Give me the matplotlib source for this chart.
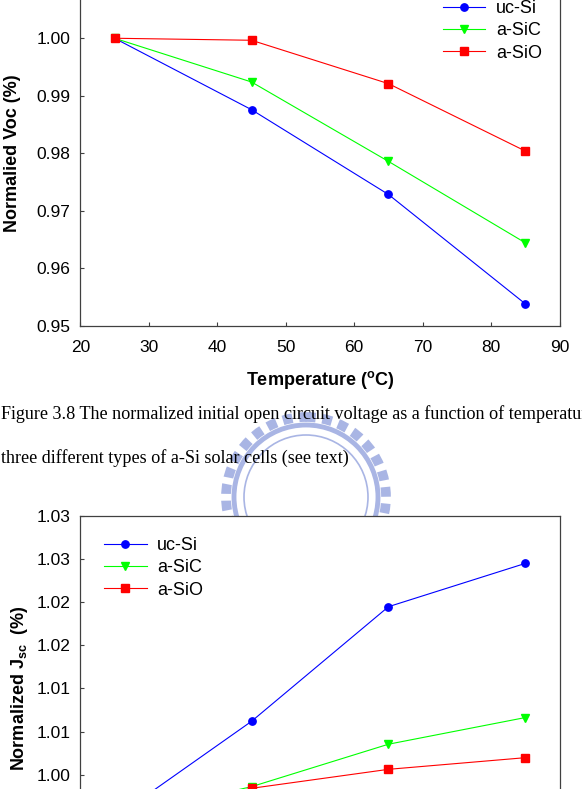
import matplotlib.pyplot as plt
from matplotlib.patches import Circle

plt.rcParams['font.family'] = ['Liberation Sans', 'DejaVu Sans']
plt.rcParams['mathtext.fontset'] = 'custom'
plt.rcParams['mathtext.rm'] = 'Liberation Sans'
plt.rcParams['mathtext.bf'] = 'Liberation Sans:bold'
plt.rcParams['mathtext.it'] = 'Liberation Sans:italic'

# data
temps = [25, 45, 65, 85]
labels = ['uc-Si', 'a-SiC', 'a-SiO']
voc_ucsi = [1.0, 0.98759, 0.97285, 0.95383]
voc_asic = [1.0, 0.99240, 0.97860, 0.96444]
voc_asio = [1.0, 0.99965, 0.99211, 0.98039]
jsc_ucsi = [1.0, 1.01118, 1.02446, 1.02948]
jsc_asic = [1.0, 1.00361, 1.00853, 1.01162]
jsc_asio = [1.0, 1.00342, 1.00562, 1.00697]

xticks = [20, 30, 40, 50, 60, 70, 80, 90]
voc_yticks = [0.95, 0.96, 0.97, 0.98, 0.99, 1.00]
jsc_yticks = [1.005, 1.010, 1.015, 1.020, 1.025, 1.030, 1.035]
jsc_yticklabels = ['1.00', '1.01', '1.01', '1.02', '1.02', '1.03', '1.03']

caption = ['Figure 3.8 The normalized initial open circuit voltage as a function of temperature for',
           'three different types of a-Si solar cells (see text)']

colors = ['#0000ff', '#00ff00', '#ff0000']
markers = ['o', 'v', 's']
msizes = [5.3, 6.0, 5.3]

W, H = 582, 789
fig = plt.figure(figsize=(W / 100, H / 100), dpi=100)

# watermark seal (background decoration)
bg = fig.add_axes([0, 0, 1, 1], zorder=0)
bg.set_xlim(0, W)
bg.set_ylim(H, 0)
bg.axis('off')
seal = '#a9b5e4'
bg.add_patch(Circle((306, 497), 80, fill=False, ec=seal, lw=7, ls=(0, (1.0, 0.7))))
bg.add_patch(Circle((306, 497), 72, fill=False, ec=seal, lw=3.5))
bg.add_patch(Circle((306, 497), 62, fill=False, ec=seal, lw=1.2))

for i, line in enumerate(caption):
    fig.text(1 / W, 1 - (419.3 + 44 * i) / H, line, family='Liberation Serif',
             fontsize=13.1, va='baseline', ha='left', zorder=2)


def style_axes(ax):
    ax.set_xlim(20, 90)
    ax.set_xticks(xticks)
    for s in ax.spines.values():
        s.set_color('#404040')
        s.set_linewidth(0.9)
    ax.tick_params(direction='in', length=3.2, width=0.8, color='#404040',
                   labelsize=12.5, top=False, right=False)
    ax.tick_params(axis='x', pad=10)
    ax.tick_params(axis='y', pad=6.9)


leg_kw = dict(bbox_transform=fig.transFigure, loc='upper left', frameon=False, fontsize=13,
              borderpad=0, borderaxespad=0, handlelength=2.36, handletextpad=0.59,
              labelspacing=0.29)

# top: normalized Voc
ax1 = fig.add_axes([80.3 / W, 1 - 326 / H, 479.4 / W, 345.3 / H], zorder=1)
for vals, lab, c, m, ms in zip([voc_ucsi, voc_asic, voc_asio], labels, colors, markers, msizes):
    ax1.plot(temps, vals, color=c, lw=0.8, marker=m, ms=ms, mec=c, label=lab)
style_axes(ax1)
ax1.set_ylim(0.95, 1.01)
ax1.set_yticks(voc_yticks)
ax1.set_yticklabels(['%.2f' % v for v in voc_yticks])
ax1.set_xlabel(r'Temperature ($\mathbf{^{o}}$C)', fontsize=13, fontweight='bold', va='center')
ax1.xaxis.set_label_coords(0.5, -54 / 345.3)
ax1.set_ylabel('Normalied Voc (%)', fontsize=13, fontweight='bold', va='center')
ax1.yaxis.set_label_coords((12.8 - 80.3) / 479.4, 0.5)
ax1.legend(bbox_to_anchor=(442.7 / W, 1 - 0.2 / H), **leg_kw)

# bottom: normalized Jsc (its x axis falls below the page crop)
ax2 = fig.add_axes([80.3 / W, 1 - 861 / H, 479.4 / W, 345.3 / H], zorder=1)
for vals, lab, c, m, ms in zip([jsc_ucsi, jsc_asic, jsc_asio], labels, colors, markers, msizes):
    ax2.plot(temps, vals, color=c, lw=0.8, marker=m, ms=ms, mec=c, label=lab)
style_axes(ax2)
ax2.tick_params(axis='x', labelbottom=False)
ax2.set_ylim(0.995, 1.035)
ax2.set_yticks(jsc_yticks)
ax2.set_yticklabels(jsc_yticklabels)
ax2.set_ylabel(r'Normalized J$\mathbf{_{sc}}$  (%)', fontsize=13, fontweight='bold', va='center')
ax2.yaxis.set_label_coords((19.5 - 80.3) / 479.4, 0.5)
ax2.legend(bbox_to_anchor=(104 / W, 1 - 537.1 / H), **leg_kw)

fig.savefig('out.png', dpi=100)
